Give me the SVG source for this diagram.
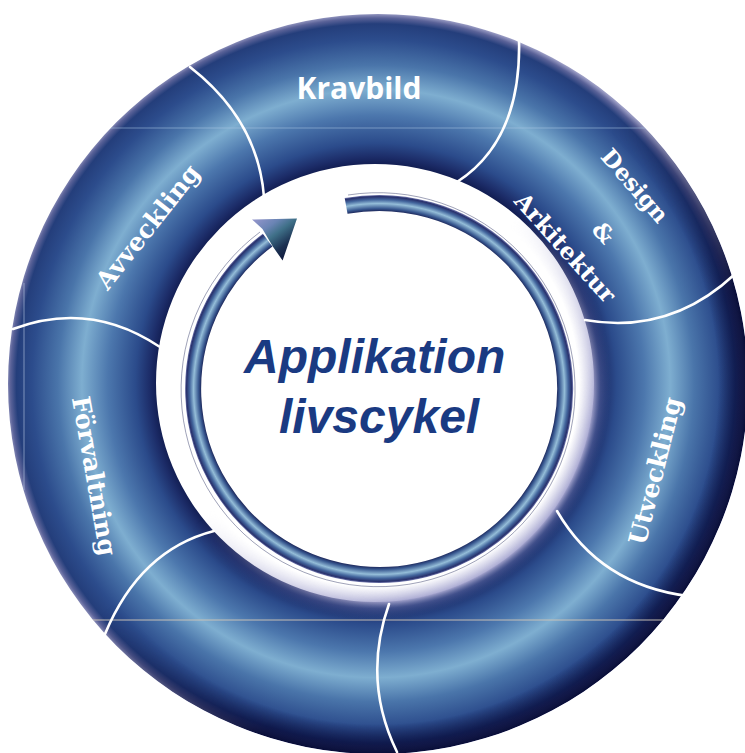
<svg xmlns="http://www.w3.org/2000/svg" width="745" height="753" viewBox="0 0 745 753">
  <style>
    .divider { fill: none; stroke: #ffffff; stroke-width: 2.6; stroke-linecap: round; }
    .seg { fill: #ffffff; font-family: "DejaVu Serif", "Liberation Serif", serif; font-weight: 700; font-size: 23px; }
    .big { font-size: 25px; }
    .title { fill: #ffffff; font-family: "Open Sans", "Liberation Sans", sans-serif; font-weight: 700; font-size: 30px; }
    .center { fill: #1a3a82; font-family: "Liberation Sans", Arial, sans-serif; font-weight: 700; font-style: italic; font-size: 48px; }
    .faint { fill: none; stroke-width: 1; }
  </style>
  <defs>
    <radialGradient id="ringGrad" gradientUnits="userSpaceOnUse" cx="376" cy="383.5" r="370">
      <stop offset="0.590" stop-color="#111c50"/>
      <stop offset="0.612" stop-color="#1c2c68"/>
      <stop offset="0.650" stop-color="#2b4b8b"/>
      <stop offset="0.725" stop-color="#4c77ad"/>
      <stop offset="0.795" stop-color="#7eaed0"/>
      <stop offset="0.860" stop-color="#4a75aa"/>
      <stop offset="0.930" stop-color="#2c4c8c"/>
      <stop offset="0.972" stop-color="#243e7b"/>
      <stop offset="0.988" stop-color="#5a6298"/>
      <stop offset="1.000" stop-color="#9a9cc4"/>
    </radialGradient>
    <radialGradient id="outerDark" gradientUnits="userSpaceOnUse" cx="378" cy="384" r="370">
      <stop offset="0.920" stop-color="#0a1040" stop-opacity="0"/>
      <stop offset="0.975" stop-color="#0a1040" stop-opacity="0.85"/>
      <stop offset="1.000" stop-color="#070c36" stop-opacity="1"/>
    </radialGradient>
    <radialGradient id="innerGlow" gradientUnits="userSpaceOnUse" cx="375" cy="383" r="240">
      <stop offset="0.850" stop-color="#b4b4d8" stop-opacity="0"/>
      <stop offset="0.912" stop-color="#a9a9d2" stop-opacity="0.95"/>
      <stop offset="0.940" stop-color="#5b6aa6" stop-opacity="0.6"/>
      <stop offset="0.985" stop-color="#3a5896" stop-opacity="0"/>
    </radialGradient>
    <linearGradient id="lgBR" gradientUnits="userSpaceOnUse" x1="200" y1="200" x2="580" y2="600">
      <stop offset="0" stop-color="#000000"/>
      <stop offset="0.42" stop-color="#000000"/>
      <stop offset="0.78" stop-color="#ffffff"/>
      <stop offset="1" stop-color="#ffffff"/>
    </linearGradient>
    <mask id="mBR" maskUnits="userSpaceOnUse" x="0" y="0" width="745" height="753">
      <rect x="0" y="0" width="745" height="753" fill="url(#lgBR)"/>
    </mask>
    <clipPath id="ringClip">
      <path clip-rule="evenodd" d="M8,384 a370,370 0 1,0 740,0 a370,370 0 1,0 -740,0 Z M156,383 a219,219 0 1,0 438,0 a219,219 0 1,0 -438,0 Z"/>
    </clipPath>
    <radialGradient id="tubeGrad" gradientUnits="userSpaceOnUse" cx="379" cy="389" r="194">
      <stop offset="0.915" stop-color="#1a2356"/>
      <stop offset="0.930" stop-color="#37578f"/>
      <stop offset="0.956" stop-color="#94bdd8"/>
      <stop offset="0.976" stop-color="#43669d"/>
      <stop offset="0.992" stop-color="#28316c"/>
      <stop offset="1.000" stop-color="#7278ae"/>
    </radialGradient>
    <linearGradient id="headGrad" gradientUnits="userSpaceOnUse" x1="252.6" y1="220.1" x2="282.6" y2="260.1">
      <stop offset="0" stop-color="#9496cc"/>
      <stop offset="0.30" stop-color="#6a84b4"/>
      <stop offset="0.50" stop-color="#3f7088"/>
      <stop offset="0.78" stop-color="#1c3152"/>
      <stop offset="1" stop-color="#101a3e"/>
    </linearGradient>
  </defs>

  <!-- ring body -->
  <g id="ring">
    <path fill-rule="evenodd" fill="url(#ringGrad)" d="M8,384 a370,370 0 1,0 740,0 a370,370 0 1,0 -740,0 Z M156,383 a219,219 0 1,0 438,0 a219,219 0 1,0 -438,0 Z"/>
    <circle cx="378" cy="384" r="370" fill="url(#outerDark)" mask="url(#mBR)" clip-path="url(#ringClip)"/>
    <circle cx="375" cy="383" r="240" fill="url(#innerGlow)" mask="url(#mBR)"/>
    <g clip-path="url(#ringClip)">
      <line class="faint" x1="0" y1="128" x2="745" y2="128" stroke="#a8c4e4" stroke-opacity="0.55"/>
      <line class="faint" x1="0" y1="620" x2="745" y2="620" stroke="#cdc4b6" stroke-opacity="0.95"/>
      <line class="faint" x1="24" y1="283" x2="24" y2="490" stroke="#b8c8e2" stroke-opacity="0.6"/>
    </g>
    <path class="divider" d="M190,67 Q258,120 264,197"/>
    <path class="divider" d="M519,38 Q522,140 457,182"/>
    <path class="divider" d="M585,320 Q670,335 735,274"/>
    <path class="divider" d="M557,511 Q600,585 688,596"/>
    <path class="divider" d="M389,604 Q362,680 397,752"/>
    <path class="divider" d="M214,531 Q140,550 105,634"/>
    <path class="divider" d="M13,329 Q90,300 160,347"/>
  </g>

  <!-- segment labels -->
  <g id="kravbild">
    <text class="title" x="359" y="99" text-anchor="middle">Kravbild</text>
  </g>
  <g id="design-arkitektur">
    <text class="seg" text-anchor="middle" dy="0.33em" transform="translate(634.5,186) rotate(49)">Design</text>
    <text class="seg" text-anchor="middle" dy="0.33em" transform="translate(603,233) rotate(48)">&amp;</text>
    <text class="seg" text-anchor="middle" dy="0.33em" transform="translate(565,248) rotate(48)" style="font-size:23.5px">Arkitektur</text>
  </g>
  <g id="utveckling">
    <text class="seg big" text-anchor="middle" dy="0.33em" transform="translate(655.5,471) rotate(-76)">Utveckling</text>
  </g>
  <g id="forvaltning">
    <text class="seg big" text-anchor="middle" dy="0.33em" transform="translate(94,476) rotate(80)">Förvaltning</text>
  </g>
  <g id="avveckling">
    <text class="seg big" text-anchor="middle" dy="0.33em" transform="translate(148,227) rotate(-51.7)">Avveckling</text>
  </g>

  <!-- cycle arrow -->
  <g id="connectors">
    <path d="M346.1,205.9 A186,186 0 1,1 267.6,240.1" fill="none" stroke="url(#tubeGrad)" stroke-width="16"/>
    <path d="M348,195 A197,197 0 1,1 260,232" fill="none" stroke="#2a3162" stroke-width="1" stroke-opacity="0.45"/>
    <polygon points="297,218.5 252,219.5 262.5,229 272.8,246.5 282.6,260.5" fill="url(#headGrad)"/>
  </g>

  <g id="title-center">
    <text class="center" x="244" y="373">Applikation</text>
    <text class="center" x="279" y="433">livscykel</text>
  </g>
</svg>
